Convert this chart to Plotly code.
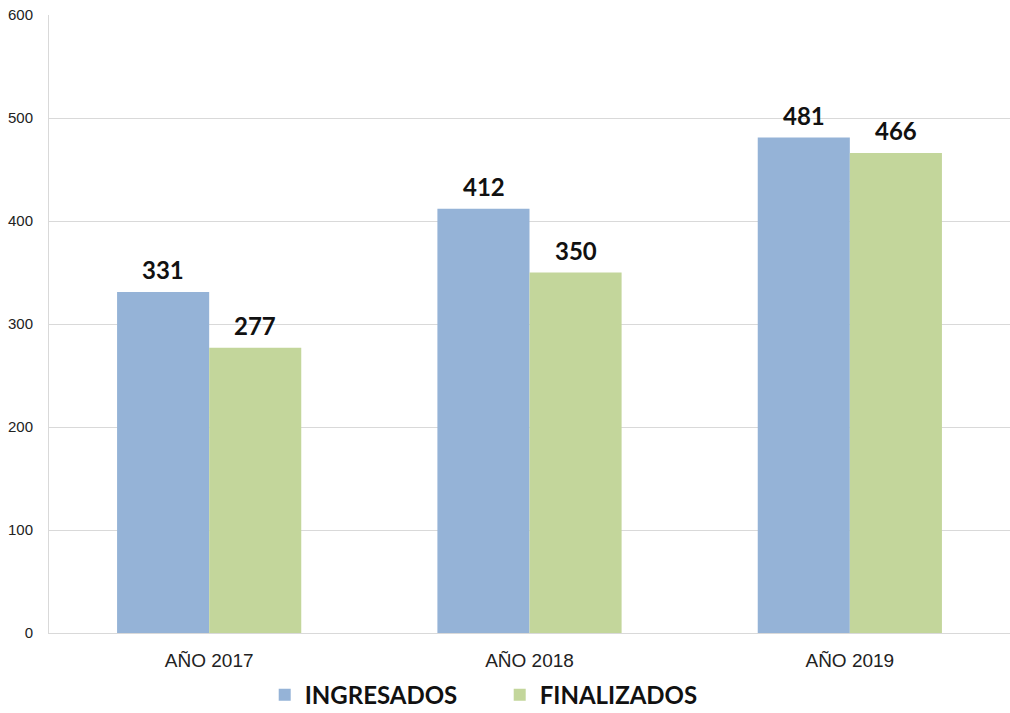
import plotly.graph_objects as go

anios = ['AÑO 2017', 'AÑO 2018', 'AÑO 2019']
ingresados = [331, 412, 481]
finalizados = [277, 350, 466]
ticks_y = [0, 100, 200, 300, 400, 500, 600]

AZUL = '#95B3D7'
VERDE = '#C3D69B'
FUENTE_ETIQUETA = dict(family='Lato', size=24, color='#111111', weight='bold')

fig = go.Figure()

fig.add_trace(go.Bar(
    x=anios, y=ingresados, name='INGRESADOS',
    marker=dict(color=AZUL, line=dict(width=0)),
))
fig.add_trace(go.Bar(
    x=anios, y=finalizados, name='FINALIZADOS',
    marker=dict(color=VERDE, line=dict(width=0)),
))

# etiquetas de valor sobre cada barra
for serie, desplazamiento in ((ingresados, -46), (finalizados, 46)):
    for anio, valor in zip(anios, serie):
        fig.add_annotation(
            x=anio, y=valor, text=str(valor), showarrow=False,
            xshift=desplazamiento, yanchor='bottom', yshift=6,
            font=FUENTE_ETIQUETA
        )

fig.update_layout(
    width=1010, height=713,
    margin=dict(l=49, r=0, t=15, b=80, autoexpand=False),
    barmode='group', bargap=0.425, bargroupgap=0,
    plot_bgcolor='white', paper_bgcolor='white',
    font=dict(family='Liberation Sans, Arial', size=15, color='#222222'),
    legend=dict(
        orientation='h', x=0.469, xanchor='center', y=0.025, yanchor='middle',
        yref='container',
        font=dict(family='Lato', size=24, color='#111111', weight='bold'),
        entrywidth=190, itemwidth=30, traceorder='normal'
    ),
)

fig.update_xaxes(
    showgrid=False, showline=True, linecolor='#D9D9D9', linewidth=1,
    tickfont=dict(size=19, color='#222222'), ticks='outside', ticklen=10,
    tickcolor='rgba(0,0,0,0)', automargin=False
)
fig.update_yaxes(
    range=[0, 600], tickvals=ticks_y, showgrid=True, gridcolor='#D9D9D9',
    gridwidth=1, showline=True, linecolor='#D9D9D9', zeroline=False,
    ticks='outside', ticklen=12, tickcolor='rgba(0,0,0,0)',
    tickfont=dict(size=15, color='#222222'), automargin=False
)

fig.write_html('out.html', config={'displayModeBar': False},
               post_script="document.body.style.margin='0';")
